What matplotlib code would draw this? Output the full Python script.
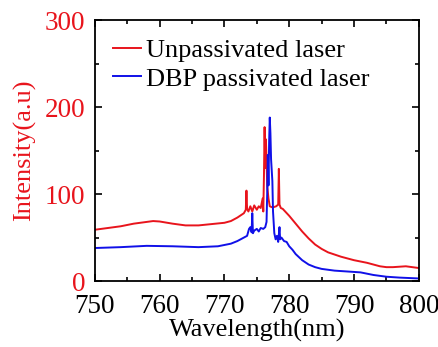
import matplotlib
matplotlib.use("Agg")
import matplotlib.pyplot as plt
from matplotlib.ticker import MultipleLocator

plt.rcParams['font.family'] = ['Liberation Serif', 'DejaVu Serif']
plt.rcParams['mathtext.fontset'] = 'stix'

# Unpassivated laser spectrum
unpass_wl = [750, 752, 754, 756, 758, 759, 760, 762, 764, 766, 768, 770, 771, 772,
             773, 773.3, 773.4, 773.5, 773.7, 774, 774.3, 774.6, 775, 775.3, 775.6,
             775.9, 776.0, 776.1, 776.2, 776.3, 776.4, 776.5, 776.6, 776.8, 777.0,
             777.3, 777.6, 778.0, 778.3, 778.4, 778.5, 778.7, 779, 780, 781, 782,
             783, 784, 785, 786, 788, 790, 792, 794, 795, 796, 798, 800]
unpass_int = [59, 61, 63, 66, 68, 69, 68.5, 66, 64, 64, 65.5, 67, 69, 73,
              78, 82, 104, 83, 80, 86, 80, 87, 82, 86, 84,
              95, 80, 120, 177, 130, 163, 140, 110, 95, 86,
              85, 85, 86, 88, 129, 88, 84, 83, 75, 66, 57,
              49, 42, 37, 33, 28, 24, 21, 17, 16, 16, 17, 15]

# DBP passivated laser spectrum
dbp_wl = [750, 754, 758, 762, 766, 769, 771, 772, 773, 773.5, 773.8, 774.0, 774.2,
          774.3, 774.4, 774.6, 775, 775.3, 775.6, 776, 776.3, 776.5, 776.6, 776.7,
          776.8, 776.9, 777.0, 777.1, 777.2, 777.4, 777.5, 777.7, 777.9, 778.1,
          778.3, 778.5, 778.6, 778.8, 779.2, 779.6, 780, 780.5, 781, 782, 783,
          784, 785, 787, 789, 791, 793, 795, 797, 800]
dbp_int = [38, 39, 40.5, 40, 39, 40, 43, 46, 50, 52, 60, 62, 56,
           78, 55, 58, 60, 57, 61, 60, 62, 68, 100, 145,
           110, 160, 188, 170, 140, 115, 80, 55, 48, 52,
           45, 62, 48, 50, 46, 45, 40, 36, 31, 24, 19,
           16, 14, 12, 11, 10, 7, 5, 4, 3]

x_ticks = [750, 760, 770, 780, 790, 800]
y_ticks = [0, 100, 200, 300]

red = '#e8141c'
blue = '#1010e8'

fig = plt.figure(figsize=(4.39, 3.47), dpi=100)
ax = fig.add_axes([0.216, 0.190, 0.738, 0.752])

ax.plot(unpass_wl, unpass_int, color=red, lw=1.4, label='Unpassivated laser')
ax.plot(dbp_wl, dbp_int, color=blue, lw=1.4, label='DBP passivated laser')

ax.set_xlim(750, 800)
ax.set_ylim(0, 300)
ax.set_xticks(x_ticks)
ax.set_yticks(y_ticks)
ax.xaxis.set_minor_locator(MultipleLocator(5))
ax.yaxis.set_minor_locator(MultipleLocator(50))
ax.tick_params(which='both', direction='in', top=True, right=True, width=1.2)
ax.tick_params(which='major', length=5, labelsize=19.5)
ax.tick_params(which='minor', length=3)
ax.tick_params(axis='x', pad=9)
ax.tick_params(axis='y', labelcolor=red, pad=7)
for sp in ax.spines.values():
    sp.set_linewidth(1.3)

ax.set_xlabel('Wavelength(nm)', fontsize=19, labelpad=0)
ax.set_ylabel('Intensity(a.u)', fontsize=19, color=red, labelpad=6)

ax.legend(loc='upper left', bbox_to_anchor=(0.056, 0.93), frameon=False,
          fontsize=19, handlelength=1.05, handletextpad=0.2, labelspacing=0.2,
          borderaxespad=0, borderpad=0)

fig.savefig('out.png', dpi=100)
